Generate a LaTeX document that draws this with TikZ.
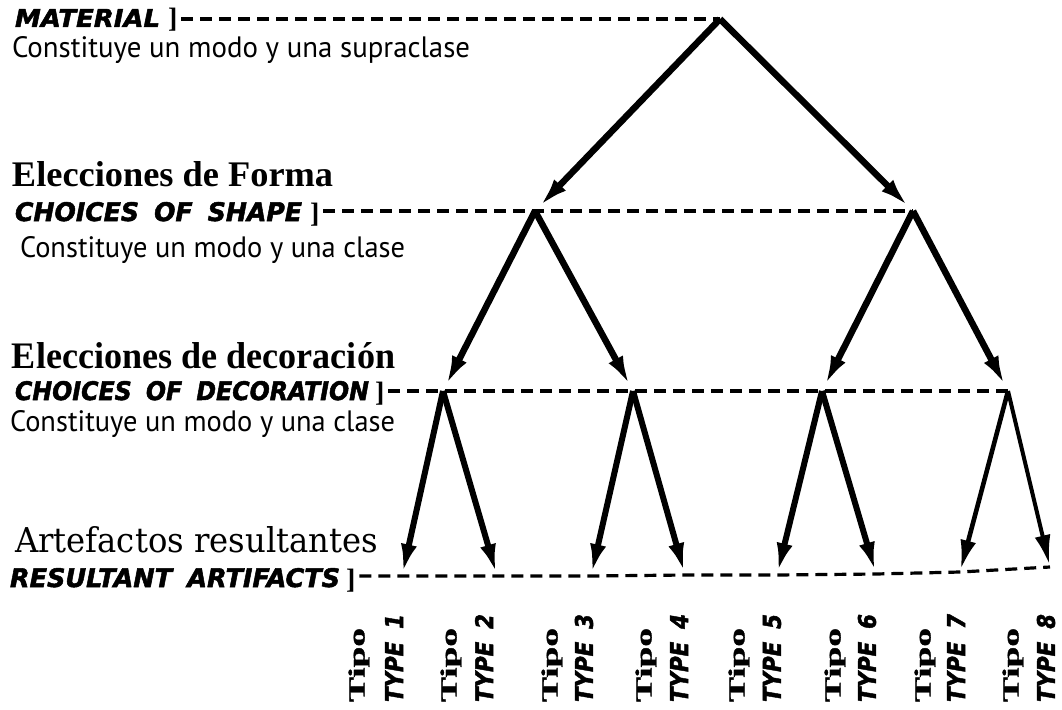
\documentclass[tikz,border=0pt]{standalone}
\usepackage{fontspec}
\usepackage{graphicx}
\usetikzlibrary{arrows.meta}
\setmainfont{Liberation Serif}
\newfontfamily\sansf{PT Sans}
\newfontfamily\handf{DejaVu Sans}[FakeBold=2]
\newfontfamily\serifw{DejaVu Serif}
\newfontfamily\tipof{Liberation Serif}[FakeBold=1.2]
\newcommand\fitw[2]{\resizebox{#1}{!}{#2}}
\newcommand\fitwh[3]{\resizebox{#1}{#2}{#3}}
\newcommand\handtxt[3]{\resizebox{#1}{#2}{\handf\bfseries\itshape #3}}
\newcommand\rbrk{\raisebox{-1pt}{\fontsize{28}{28}\selectfont\bfseries ]}}
\newcommand\wsp{\hspace{0.6em}}
\tikzset{
  lab/.style={inner sep=0pt, outer sep=0pt},
  guide/.style={line width=3.2pt, dash pattern=on 12pt off 7pt},
  edge/.style={line width=6.5pt, -{Latex[length=30pt,width=16pt]}, shorten >=6pt},
  leafedge/.style={line width=6pt, -{Latex[length=30pt,width=16pt]}, shorten >=2pt},
  tipo/.style={lab, rotate=90, anchor=west},
}
\begin{document}
\begin{tikzpicture}[x=1pt,y=-1pt]
\useasboundingbox (0,0) rectangle (1062,709);
\fill[white] (0,0) rectangle (1062,709);
% tree vertices
\coordinate (R) at (720,19);
\coordinate (A) at (535,211);
\coordinate (B) at (913,211);
\coordinate (C1) at (443,391);
\coordinate (C2) at (633,391);
\coordinate (C3) at (822,391);
\coordinate (C4) at (1008,391);
\coordinate (L1) at (402,576);
\coordinate (L2) at (497,576);
\coordinate (L3) at (591,576);
\coordinate (L4) at (685,575);
\coordinate (L5) at (777,575);
\coordinate (L6) at (876,574);
\coordinate (L7) at (960,572);
\coordinate (L8) at (1050,567);
% left labels
\node[lab, anchor=base west] (mat) at (15,27) {\handtxt{145pt}{18pt}{MATERIAL}\hspace{8pt}\rbrk};
\node[lab, anchor=base west] (c0) at (12,58) {\fitwh{458pt}{21pt}{\sansf Constituye un modo y una supraclase}};
\node[lab, anchor=base west] (ef) at (12,186) {\fitwh{321pt}{25pt}{\bfseries Elecciones de Forma}};
\node[lab, anchor=base west] (shp) at (15,221) {\handtxt{287pt}{19pt}{CHOICES\wsp OF\wsp SHAPE}\hspace{8pt}\rbrk};
\node[lab, anchor=base west] (c1) at (20,257) {\fitwh{385pt}{21pt}{\sansf Constituye un modo y una clase}};
\node[lab, anchor=base west] (ed) at (12,368) {\fitwh{383pt}{26pt}{\bfseries Elecciones de decoración}};
\node[lab, anchor=base west] (dec) at (15,400) {\handtxt{354pt}{19pt}{CHOICES\wsp OF\wsp DECORATION}\hspace{6pt}\rbrk};
\node[lab, anchor=base west] (c2) at (10,431) {\fitwh{385pt}{21pt}{\sansf Constituye un modo y una clase}};
\node[lab, anchor=base west] (ar) at (15,552) {\fitwh{363pt}{26pt}{\serifw Artefactos resultantes}};
\node[lab, anchor=base west] (res) at (10,587) {\handtxt{330pt}{19pt}{RESULTANT\wsp ARTIFACTS}\hspace{6pt}\rbrk};
% guide dashed lines
\draw[guide, shorten <=4pt] (mat.east |- R) -- (R);
\draw[guide, shorten <=4pt] (shp.east |- A) -- (B);
\draw[guide, shorten <=4pt] (dec.east |- C1) -- (C4);
\draw[guide, shorten <=4pt] (res.east |- L1) -- (L1) -- (L2) -- (L3) -- (L4) -- (L5) -- (L6) -- (L7) -- (L8);
% tree edges
\draw[edge] (R) -- (A);
\draw[edge] (R) -- (B);
\draw[edge] (A) -- (C1);
\draw[edge] (A) -- (C2);
\draw[edge] (B) -- (C3);
\draw[edge] (B) -- (C4);
\draw[leafedge] (C1) -- (L1);
\draw[leafedge] (C1) -- (L2);
\draw[leafedge] (C2) -- (L3);
\draw[leafedge] (C2) -- (L4);
\draw[leafedge] (C3) -- (L5);
\draw[leafedge] (C3) -- (L6);
\draw[leafedge, line width=4.6pt] (C4) -- (L7);
\draw[leafedge, line width=4pt] (C4) -- (L8);
% type labels
\foreach \i/\xa/\xb in {1/359/394, 2/451/484, 3/552/584, 4/646/679, 5/739/772, 6/835/867, 7/925/956, 8/1013/1046}{
  \node[tipo] (tipo\i) at (\xa,702) {\resizebox{74pt}{16pt}{\tipof\bfseries Tipo}};
  \node[tipo] (type\i) at (\xb,702) {\handtxt{88pt}{18pt}{TYPE\wsp\i}};
}
\end{tikzpicture}
\end{document}
